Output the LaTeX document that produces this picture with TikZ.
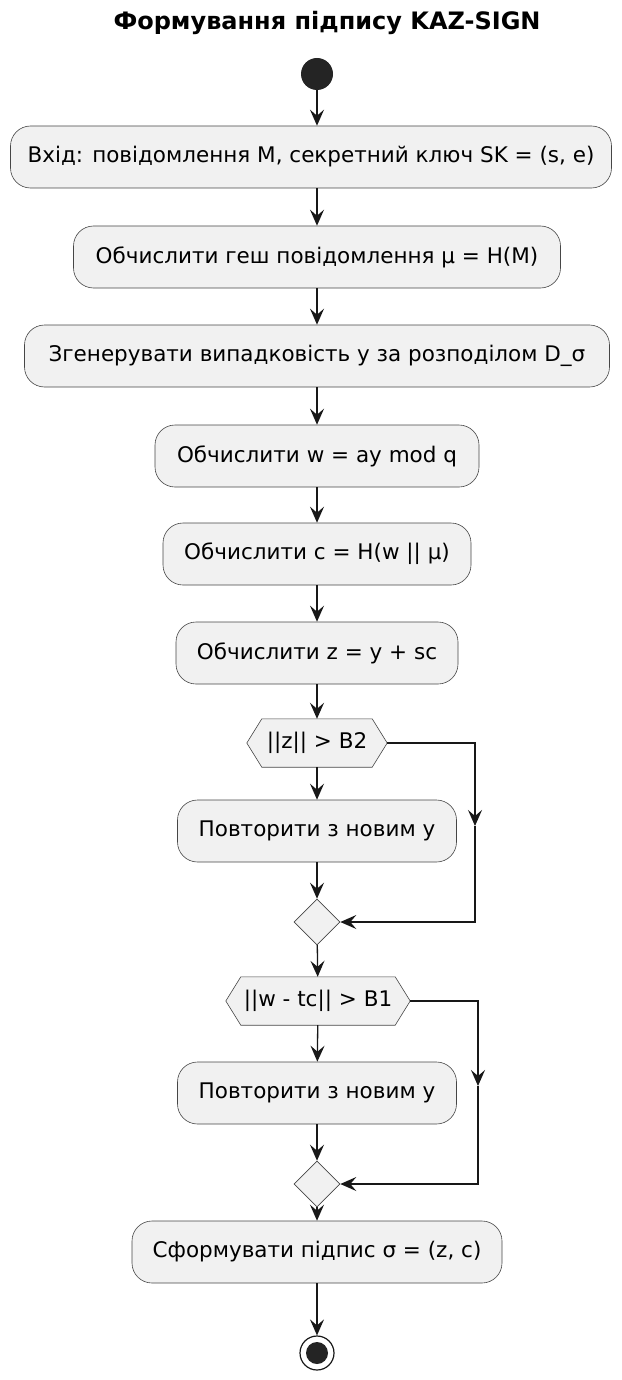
\documentclass[tikz,border=0pt]{standalone}
\usepackage{fontspec}
\setmainfont{DejaVu Sans}
\usetikzlibrary{arrows.meta,shapes.geometric,backgrounds}
\definecolor{actfill}{HTML}{F1F1F1}
\definecolor{actline}{HTML}{181818}

\begin{document}
\begin{tikzpicture}[x=1pt,y=-1pt,
  action/.style={draw=actline!80,line width=0.6pt,fill=actfill,rounded corners=20pt,
    minimum height=62pt,inner sep=0pt,font=\fontsize{21.5}{24}\selectfont},
  test/.style={minimum height=48pt,inner sep=0pt,font=\fontsize{21.5}{24}\selectfont},
  merge/.style={draw=actline!80,line width=0.6pt,fill=actfill,diamond,aspect=1,
    minimum size=46pt,inner sep=0pt},
  flow/.style={draw=actline,line width=1.3pt,-{Stealth[length=16pt,width=14pt,inset=6pt]}},
  hexa/.style={draw=actline!80,line width=0.6pt,fill=actfill}]
  \useasboundingbox (0,0) rectangle (621,1380);

  \node (title) at (327,23) {\fontsize{24}{27}\selectfont\bfseries Формування підпису KAZ-SIGN};

  \node[circle,fill=actline!95,minimum size=32pt,inner sep=0pt] (start) at (317,74) {};

  \node[action,minimum width=601pt] (input) at (311,157) {Вхід: повідомлення M, секретний ключ SK = (s, e)};
  \node[action,minimum width=487pt] (hash) at (317,257) {Обчислити геш повідомлення μ = H(M)};
  \node[action,minimum width=585pt] (rand) at (317,356) {Згенерувати випадковість y за розподілом D\_σ};
  \node[action,minimum width=324pt] (wval) at (317,456) {Обчислити w = ay mod q};
  \node[action,minimum width=308pt] (cval) at (317,554) {Обчислити c = H(w || μ)};
  \node[action,minimum width=282pt] (zval) at (317,653) {Обчислити z = y + sc};

  \node[test,minimum width=140pt] (testz) at (317,743) {||z|| > B2};
  \node[action,minimum width=279pt] (retryz) at (317,831) {Повторити з новим y};
  \node[merge] (mergez) at (317,922) {};

  \node[test,minimum width=184pt] (testw) at (318,1001) {||w - tc|| > B1};
  \node[action,minimum width=279pt] (retryw) at (317,1093) {Повторити з новим y};
  \node[merge] (mergew) at (317,1184) {};

  \node[action,minimum width=370pt] (sign) at (317,1252) {Сформувати підпис σ = (z, c)};

  \node[circle,draw=actline,line width=1.2pt,fill=white,minimum size=34pt,inner sep=0pt] (stop) at (317,1353) {};
  \node[circle,fill=actline!95,minimum size=22pt,inner sep=0pt] (stopdot) at (stop) {};

  \begin{pgfonlayer}{background}
    \draw[hexa] (testz.west) -- ([xshift=15pt]testz.north west) -- ([xshift=-15pt]testz.north east)
      -- (testz.east) -- ([xshift=-15pt]testz.south east) -- ([xshift=15pt]testz.south west) -- cycle;
    \draw[hexa] (testw.west) -- ([xshift=15pt]testw.north west) -- ([xshift=-15pt]testw.north east)
      -- (testw.east) -- ([xshift=-15pt]testw.south east) -- ([xshift=15pt]testw.south west) -- cycle;
  \end{pgfonlayer}

  \draw[flow] (start) -- (input.north -| start);
  \draw[flow] (input.south -| start) -- (hash);
  \draw[flow] (hash) -- (rand);
  \draw[flow] (rand) -- (wval);
  \draw[flow] (wval) -- (cval);
  \draw[flow] (cval) -- (zval);
  \draw[flow] (zval) -- (testz);
  \draw[flow] (testz) -- (retryz);
  \draw[flow] (retryz) -- (mergez);

  \coordinate (bendz) at (475,743);
  \coordinate (midz) at (475,826);
  \draw[flow] (testz.east) -- (bendz) -- (midz);
  \draw[flow] (midz) |- (mergez.east);

  \draw[flow] (mergez) -- (testw);
  \draw[flow] (testw) -- (retryw);
  \draw[flow] (retryw) -- (mergew);

  \coordinate (bendw) at (478,1001);
  \coordinate (midw) at (478,1086);
  \draw[flow] (testw.east) -- (bendw) -- (midw);
  \draw[flow] (midw) |- (mergew.east);

  \draw[flow] (mergew) -- (sign);
  \draw[flow] (sign) -- (stop);
\end{tikzpicture}
\end{document}
